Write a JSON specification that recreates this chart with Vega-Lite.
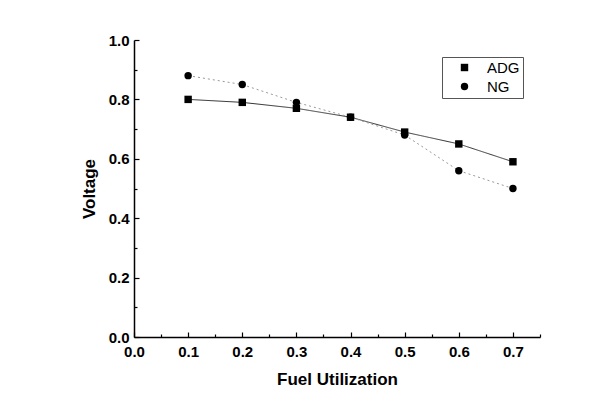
{
  "$schema": "https://vega.github.io/schema/vega-lite/v6.json",
  "width": 406,
  "height": 297,
  "autosize": "none",
  "padding": {"left": 134, "top": 40, "right": 72, "bottom": 66},
  "background": "white",
  "config": {
    "view": {"stroke": null},
    "font": "Liberation Sans",
    "axis": {
      "domainColor": "#000000",
      "domainWidth": 1.5,
      "tickColor": "#000000",
      "tickWidth": 1.2,
      "grid": false,
      "labelFont": "Liberation Sans",
      "labelFontWeight": "bold",
      "labelFontSize": 15,
      "labelColor": "#000000",
      "titleFont": "Liberation Sans",
      "titleFontWeight": "bold",
      "titleFontSize": 17,
      "titleColor": "#000000"
    }
  },
  "data": {
    "values": [
      {"fu": 0.1, "v": 0.80, "s": "ADG"},
      {"fu": 0.2, "v": 0.79, "s": "ADG"},
      {"fu": 0.3, "v": 0.77, "s": "ADG"},
      {"fu": 0.4, "v": 0.74, "s": "ADG"},
      {"fu": 0.5, "v": 0.69, "s": "ADG"},
      {"fu": 0.6, "v": 0.65, "s": "ADG"},
      {"fu": 0.7, "v": 0.59, "s": "ADG"},
      {"fu": 0.1, "v": 0.88, "s": "NG"},
      {"fu": 0.2, "v": 0.85, "s": "NG"},
      {"fu": 0.3, "v": 0.79, "s": "NG"},
      {"fu": 0.4, "v": 0.74, "s": "NG"},
      {"fu": 0.5, "v": 0.68, "s": "NG"},
      {"fu": 0.6, "v": 0.56, "s": "NG"},
      {"fu": 0.7, "v": 0.50, "s": "NG"}
    ]
  },
  "encoding": {
    "x": {
      "field": "fu",
      "type": "quantitative",
      "scale": {"domain": [0, 0.75], "nice": false, "zero": false},
      "axis": {
        "title": "Fuel Utilization",
        "titlePadding": 10,
        "values": [0, 0.05, 0.1, 0.15, 0.2, 0.25, 0.3, 0.35, 0.4, 0.45, 0.5, 0.55, 0.6, 0.65, 0.7, 0.75],
        "labelExpr": "(round(datum.value*100) % 10 == 0 && datum.value < 0.72) ? format(datum.value, '.1f') : ''",
        "tickSize": {"condition": {"test": "round(datum.value*100) % 10 == 0", "value": -5}, "value": -3},
        "labelPadding": 12,
        "labelFlush": false,
        "labelOverlap": false
      }
    },
    "y": {
      "field": "v",
      "type": "quantitative",
      "scale": {"domain": [0, 1.0], "nice": false},
      "axis": {
        "title": "Voltage",
        "titlePadding": 10,
        "values": [0, 0.1, 0.2, 0.3, 0.4, 0.5, 0.6, 0.7, 0.8, 0.9, 1.0],
        "labelExpr": "(round(datum.value*10) % 2 == 0) ? format(datum.value, '.1f') : ''",
        "tickSize": {"condition": {"test": "round(datum.value*10) % 2 == 0", "value": -5}, "value": -3},
        "labelPadding": 10,
        "labelFlush": false,
        "labelOverlap": false
      }
    }
  },
  "layer": [
    {
      "mark": {"type": "line", "strokeWidth": 1},
      "encoding": {
        "stroke": {"field": "s", "type": "nominal", "scale": {"range": ["#333333", "#999999"]}, "legend": null},
        "strokeDash": {"field": "s", "type": "nominal", "scale": {"range": [[1, 0], [2, 3]]}, "legend": null}
      }
    },
    {
      "mark": {"type": "point", "filled": true, "opacity": 1, "color": "#000000", "size": 55},
      "encoding": {
        "shape": {
          "field": "s",
          "type": "nominal",
          "scale": {"domain": ["ADG", "NG"], "range": ["square", "circle"]},
          "legend": {
            "title": null,
            "orient": "top-right",
            "offset": 17,
            "padding": 3,
            "symbolOffset": 12,
            "symbolSize": 55,
            "symbolFillColor": "#000000",
            "symbolStrokeColor": "#000000",
            "labelOffset": 15,
            "labelFont": "Liberation Sans",
            "labelFontSize": 15,
            "labelColor": "#000000",
            "rowPadding": 3,
            "strokeColor": "#555555",
            "fillColor": "white"
          }
        }
      }
    }
  ]
}
